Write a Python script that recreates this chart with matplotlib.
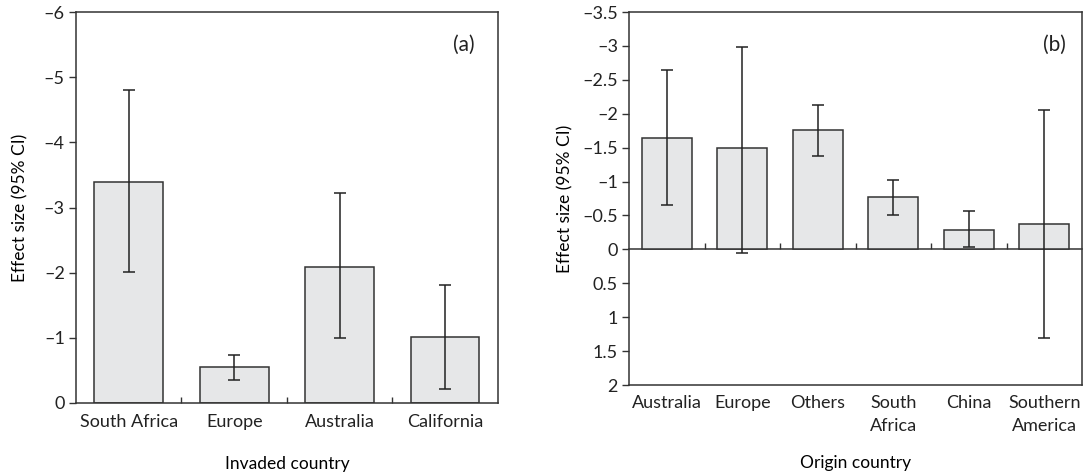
import numpy as np
import matplotlib.pyplot as plt
from matplotlib.ticker import FixedLocator, FuncFormatter

# panel (a): invaded country
invaded = ["South Africa", "Europe", "Australia", "California"]
invaded_eff = [-3.39, -0.55, -2.09, -1.02]
invaded_lo = [-2.01, -0.36, -1.00, -0.21]
invaded_hi = [-4.80, -0.73, -3.22, -1.81]

# panel (b): origin country
origin = ["Australia", "Europe", "Others", "South\nAfrica", "China", "Southern\nAmerica"]
origin_eff = [-1.64, -1.49, -1.76, -0.77, -0.29, -0.38]
origin_lo = [-0.65, 0.05, -1.38, -0.50, -0.03, 1.31]
origin_hi = [-2.64, -2.99, -2.13, -1.02, -0.56, -2.05]

plt.rcParams["font.family"] = ["Lato", "DejaVu Sans"]
plt.rcParams["font.size"] = 13
plt.rcParams["text.color"] = "#222222"
plt.rcParams["xtick.labelcolor"] = "#222222"
plt.rcParams["ytick.labelcolor"] = "#222222"

BAR = "#e6e7e8"
EDGE = "#333333"


def fmt(v, pos):
    return ("%g" % v).replace("-", "\u2013")


def draw(ax, cats, eff, lo, hi, width):
    x = np.arange(len(cats))
    eff = np.array(eff)
    lo = np.array(lo)
    hi = np.array(hi)
    err = np.vstack([eff - hi, lo - eff])
    ax.bar(x, eff, width=width, color=BAR, edgecolor=EDGE, linewidth=1.1, zorder=2)
    ax.errorbar(x, eff, yerr=np.abs(err), fmt="none", ecolor="#222222",
                elinewidth=1.1, capsize=4, capthick=1.1, zorder=3)
    ax.set_xlim(-0.5, len(cats) - 0.5)
    ax.set_xticks(x)
    ax.set_xticklabels(cats, linespacing=1.55)
    for s in ax.spines.values():
        s.set_color(EDGE)
        s.set_linewidth(1.1)
    ax.yaxis.set_major_formatter(FuncFormatter(fmt))
    ax.tick_params(axis="y", direction="out", length=5, width=1, color=EDGE, pad=3)
    return x


fig = plt.figure(figsize=(10.87, 4.73), dpi=100)
ax1 = fig.add_axes([0.0699, 0.148, 0.3882, 0.8266])
ax2 = fig.add_axes([0.5787, 0.186, 0.4167, 0.7886])

# left panel
x1 = draw(ax1, invaded, invaded_eff, invaded_lo, invaded_hi, 0.65)
ax1.set_ylim(0, -6)
ax1.set_yticks(np.arange(0, -6.5, -1))
ax1.xaxis.set_minor_locator(FixedLocator(x1[:-1] + 0.5))
ax1.tick_params(axis="x", which="major", length=0, pad=8)
ax1.tick_params(axis="x", which="minor", direction="in", length=4, width=1, color=EDGE)
ax1.set_xlabel("Invaded country", fontsize=12.5, labelpad=19)
ax1.set_ylabel("Effect size (95% CI)", fontsize=12.5, labelpad=11)
ax1.text(0.92, 0.915, "(a)", transform=ax1.transAxes, ha="center", va="center", fontsize=15)

# right panel
x2 = draw(ax2, origin, origin_eff, origin_lo, origin_hi, 0.66)
ymin, ymax = 2, -3.5
ax2.set_ylim(ymin, ymax)
ax2.set_yticks(np.arange(2, -3.6, -0.5))
ax2.tick_params(axis="x", which="major", length=0, pad=7)
ax2.set_xlabel("Origin country", fontsize=12.5, labelpad=15)
ax2.set_ylabel("Effect size (95% CI)", fontsize=12.5, labelpad=6)
zero = ax2.secondary_xaxis((ymin - 0) / (ymin - ymax))
zero.spines["bottom"].set_color(EDGE)
zero.spines["bottom"].set_linewidth(1.1)
zero.set_xticks([])
zero.xaxis.set_minor_locator(FixedLocator(x2[:-1] + 0.5))
zero.tick_params(axis="x", which="minor", direction="in", length=4, width=1, color=EDGE)
ax2.text(0.94, 0.912, "(b)", transform=ax2.transAxes, ha="center", va="center", fontsize=15)

fig.savefig("out.png", dpi=100)
